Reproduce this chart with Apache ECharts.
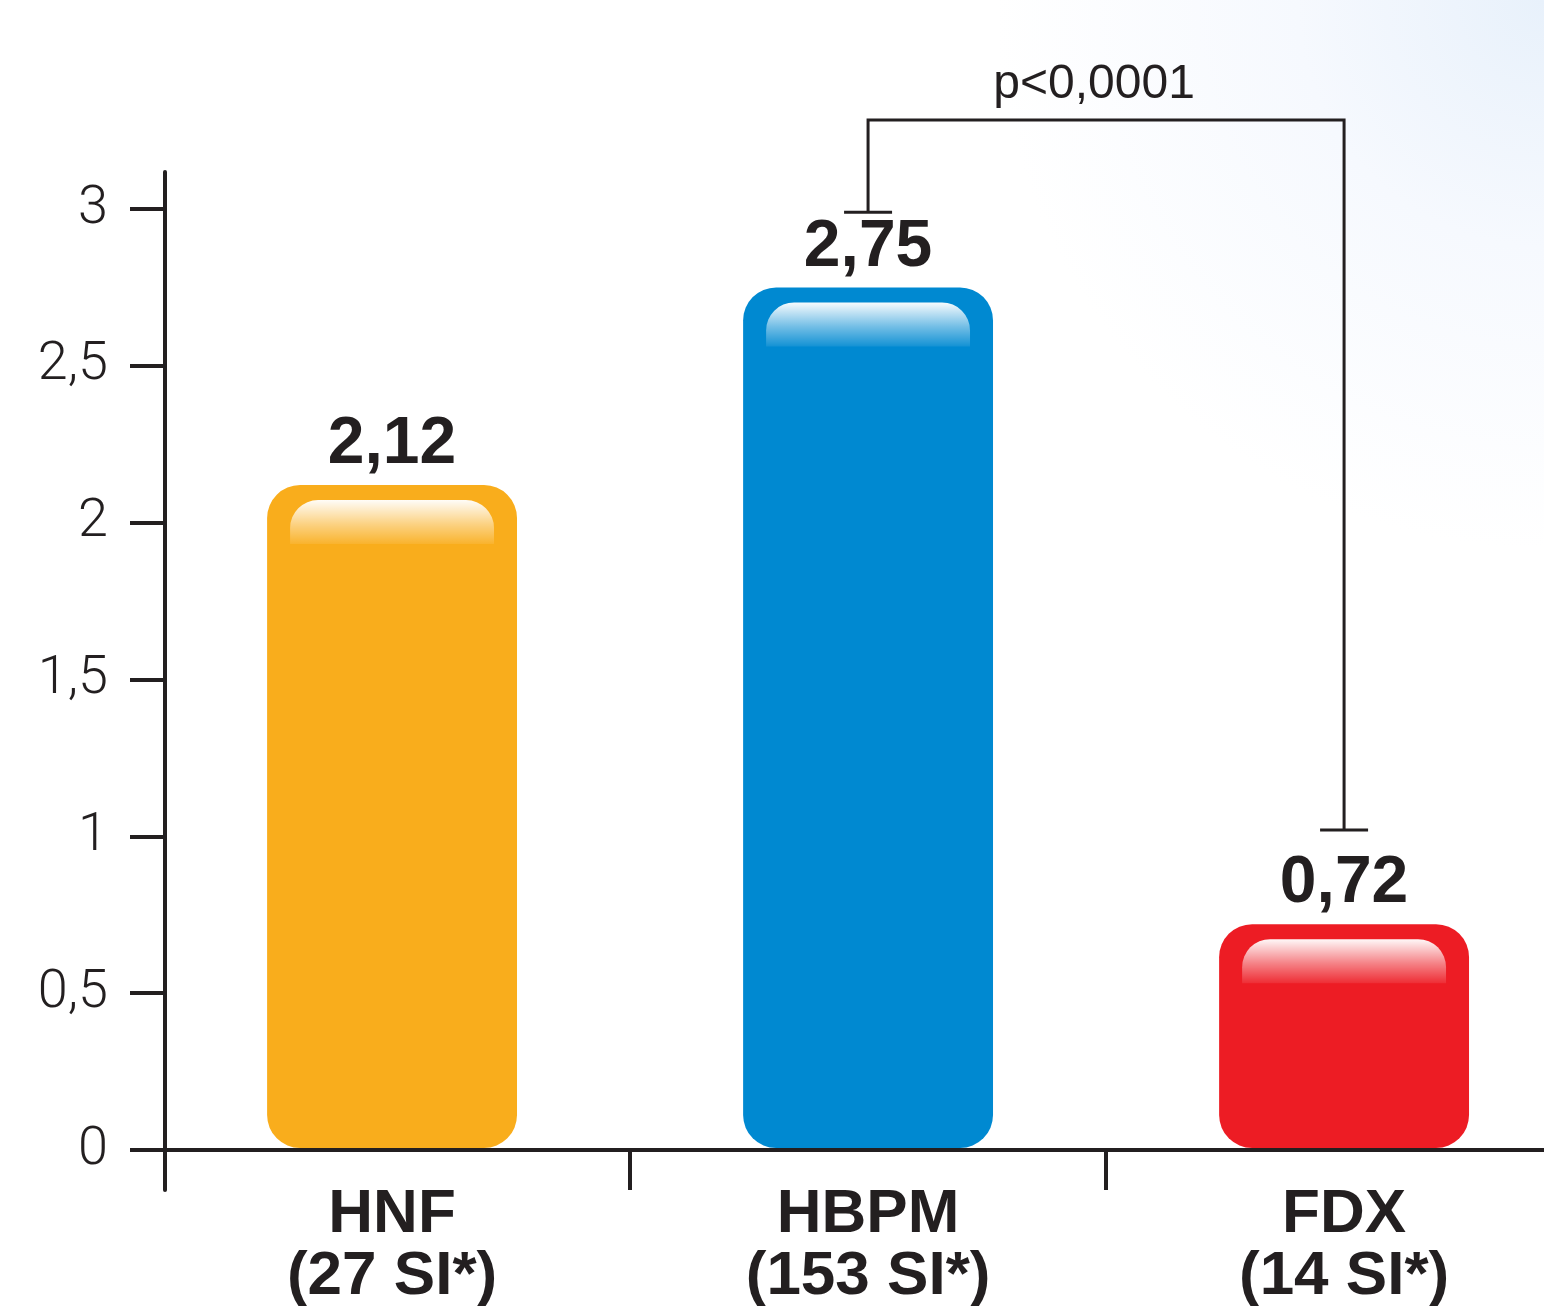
<!DOCTYPE html>
<html><head><meta charset="utf-8">
<script src="https://cdn.jsdelivr.net/npm/echarts@6/dist/echarts.min.js"></script>
<style>html,body{margin:0;padding:0;background:#fff}#c{width:1544px;height:1306px}</style>
</head><body><div id="c"></div>
<script>
const categories = ['HNF\n(27 SI*)', 'HBPM\n(153 SI*)', 'FDX\n(14 SI*)'];
const values = [2.12, 2.75, 0.72];
const valueLabels = ['2,12', '2,75', '0,72'];
const barColors = ['#F9AD1C', '#0089D1', '#ED1C24'];
const yTicks = [0, 0.5, 1, 1.5, 2, 2.5, 3];
const yTickLabels = ['0', '0,5', '1', '1,5', '2', '2,5', '3'];
const xCenters = [0, 1, 2];
const xBoundaries = [0.5, 1.5];
const bracketPair = [1, 2];
const bracketEnds = [2.99, 1.02];
const bracketTop = 3.284;
const pText = 'p<0,0001';

const INK = '#231f20';
const chart = echarts.init(document.getElementById('c'), null, {renderer: 'canvas'});

function renderBar(params, api) {
  const i = params.dataIndex;
  const top = api.coord([api.value(0), api.value(1)]);
  const base = api.coord([api.value(0), 0]);
  const band = api.size([1, 0])[0];
  const w = band * 0.525;
  const x = top[0] - w / 2;
  const y = top[1];
  const h = base[1] - y - 2;
  const c = barColors[i];
  return {
    type: 'group',
    children: [
      {type: 'rect', shape: {x: x, y: y, width: w, height: h, r: 33}, style: {fill: c}},
      {type: 'rect', shape: {x: x + 23, y: y + 15, width: w - 46, height: 44, r: [28, 28, 0, 0]},
        style: {fill: new echarts.graphic.LinearGradient(0, 0, 0, 1, [
          {offset: 0, color: 'rgba(255,255,255,0.97)'},
          {offset: 0.55, color: 'rgba(255,255,255,0.45)'},
          {offset: 1, color: 'rgba(255,255,255,0.08)'}
        ])}},
      {type: 'text', x: top[0], y: y - 7,
        style: {text: valueLabels[i], font: 'bold 66px "Liberation Sans", Arial, sans-serif',
          fill: INK, align: 'center', verticalAlign: 'bottom'}}
    ]
  };
}

function renderBracket(params, api) {
  const a = api.coord([bracketPair[0], bracketEnds[0]]);
  const b = api.coord([bracketPair[1], bracketEnds[1]]);
  const ta = api.coord([bracketPair[0], bracketTop]);
  const tb = api.coord([bracketPair[1], bracketTop]);
  const half = 24;
  const st = {stroke: INK, lineWidth: 3, fill: null};
  return {
    type: 'group',
    children: [
      {type: 'polyline', shape: {points: [a, ta, tb, b]}, style: st},
      {type: 'line', shape: {x1: a[0] - half, y1: a[1], x2: a[0] + half, y2: a[1]}, style: st},
      {type: 'line', shape: {x1: b[0] - half, y1: b[1], x2: b[0] + half, y2: b[1]}, style: st},
      {type: 'text', x: (ta[0] + tb[0]) / 2 - 12, y: ta[1] - 11,
        style: {text: pText, font: '48px "Liberation Sans", Arial, sans-serif', fill: INK,
          align: 'center', verticalAlign: 'bottom'}}
    ]
  };
}

chart.setOption({
  animation: false,
  backgroundColor: {
    type: 'radial', x: 1, y: 0, r: 0.42,
    colorStops: [
      {offset: 0, color: '#e8f1fb'},
      {offset: 0.45, color: '#f6f9fe'},
      {offset: 1, color: '#ffffff'}
    ]
  },
  grid: {left: 165, right: 0, top: 172, bottom: 116, containLabel: false, outerBoundsMode: 'none'},
  xAxis: {
    type: 'value', min: -0.477, max: 2.42,
    axisLine: {show: true, onZero: true, lineStyle: {color: INK, width: 4}},
    axisTick: {show: true, length: 40, customValues: xBoundaries, lineStyle: {color: INK, width: 4}},
    axisLabel: {customValues: xCenters, margin: -6, fontSize: 62, lineHeight: 62, fontWeight: 'bold',
      fontFamily: '"Liberation Sans", Arial, sans-serif', color: INK,
      formatter: function (v) { return categories[Math.round(v)]; }},
    splitLine: {show: false}
  },
  yAxis: {
    type: 'value', min: -0.1275, max: 3.118,
    axisLine: {show: true, onZero: false, lineStyle: {color: INK, width: 4}},
    axisTick: {show: true, length: 35, customValues: yTicks, lineStyle: {color: INK, width: 4}},
    axisLabel: {customValues: yTicks, margin: 57, fontSize: 54, fontWeight: 300,
      fontFamily: 'Roboto, "Liberation Sans", Arial, sans-serif', color: INK,
      formatter: function (v) { const k = yTicks.indexOf(v); return k >= 0 ? yTickLabels[k] : String(v).replace('.', ','); }},
    splitLine: {show: false}
  },
  series: [
    {type: 'custom', renderItem: renderBar, data: values.map(function (v, i) { return [xCenters[i], v]; }),
      encode: {x: 0, y: 1}, z: 2},
    {type: 'custom', renderItem: renderBracket, data: [[bracketPair[0], bracketTop]],
      encode: {x: 0, y: 1}, clip: false, z: 3, silent: true}
  ]
});
</script>
</body></html>
